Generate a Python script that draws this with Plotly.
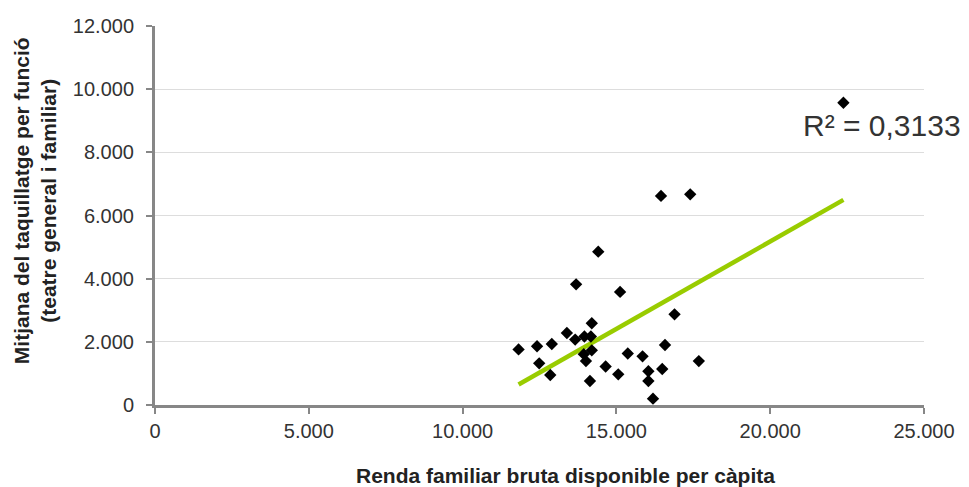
import numpy as np
import plotly.graph_objects as go

# Renda familiar bruta disponible per càpita (x) and mitjana del taquillatge per funció (y)
renda = [14410, 13690, 15120, 16890, 14200, 13390, 13660, 13960, 14170, 12900,
         12420, 11820, 16580, 14200, 13940, 14010, 15370, 15850, 17680, 12490,
         14650, 16490, 16040, 12850, 15060, 16040, 14140, 16190, 22380, 17400,
         16450]
taquillatge = [4854, 3820, 3580, 2870, 2590, 2280, 2070, 2170, 2170, 1930,
               1860, 1760, 1900, 1730, 1610, 1390, 1630, 1540, 1390, 1320,
               1220, 1140, 1070, 950, 970, 760, 760, 200, 9570, 6670,
               6620]

r2_label = "R² = 0,3133"
x_title = "Renda familiar bruta disponible per càpita"
y_title = "Mitjana del taquillatge per funció<br>(teatre general i familiar)"

x = np.array(renda, dtype=float)
y = np.array(taquillatge, dtype=float)
slope, intercept = np.polyfit(x, y, 1)
tx = np.array([x.min(), x.max()])
ty = slope * tx + intercept

FONT = "Liberation Sans, Arial"

fig = go.Figure()
fig.add_trace(go.Scatter(
    x=tx, y=ty, mode="lines",
    line=dict(color="#99cc00", width=4.5),
    hoverinfo="skip", showlegend=False))
fig.add_trace(go.Scatter(
    x=renda, y=taquillatge, mode="markers",
    marker=dict(symbol="diamond", color="black", size=9.5),
    showlegend=False))

fig.add_annotation(
    x=1.0, y=8840, xref="paper", yref="y", xanchor="right", yanchor="middle",
    text=r2_label, showarrow=False,
    font=dict(family=FONT, size=30, color="#333333"),
    xshift=39)

# axis titles as annotations for precise placement
fig.add_annotation(
    x=0.534, y=-0.187, xref="paper", yref="paper", xanchor="center", yanchor="middle",
    text="<b>" + x_title + "</b>", showarrow=False,
    font=dict(family=FONT, size=21, color="#222222"))
fig.add_annotation(
    x=-0.156, y=0.538, xref="paper", yref="paper", xanchor="center", yanchor="middle",
    text="<b>" + y_title + "</b>", showarrow=False, textangle=-90,
    font=dict(family=FONT, size=21, color="#222222"))

fig.update_layout(
    width=969, height=487,
    margin=dict(l=147, r=53, t=18, b=90),
    plot_bgcolor="white", paper_bgcolor="white",
    separators=",.",
    font=dict(family=FONT, color="#333333"),
    xaxis=dict(
        range=[0, 25000], dtick=5000, tick0=0, tickformat=",d",
        showgrid=False, zeroline=False, automargin=False,
        showline=True, linecolor="#878787", linewidth=3,
        ticks="outside", ticklen=6, tickwidth=2, tickcolor="#878787",
        tickfont=dict(size=20, color="#333333"),
    ),
    yaxis=dict(
        range=[0, 12000], dtick=2000, tick0=0, tickformat=",d",
        showgrid=True, gridcolor="#dddddd", gridwidth=1, zeroline=False, automargin=False,
        showline=True, linecolor="#878787", linewidth=3,
        ticks="outside", ticklen=6, tickwidth=2, tickcolor="#878787",
        ticklabelstandoff=8,
        tickfont=dict(size=20, color="#333333"),
    ),
)

fig.write_html("out.html")
